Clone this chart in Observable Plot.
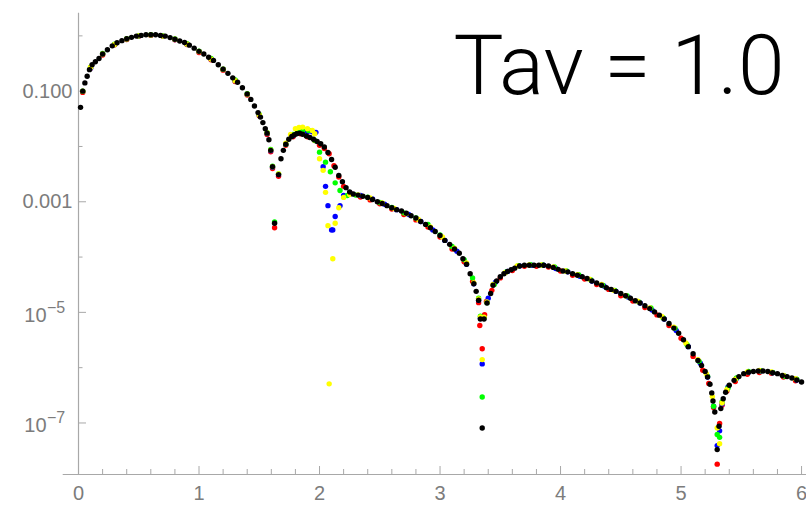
<!DOCTYPE html>
<html>
<head>
<meta charset="utf-8">
<script src="https://cdn.jsdelivr.net/npm/d3@7"></script>
<script src="https://cdn.jsdelivr.net/npm/@observablehq/plot@0.6"></script>
<style>
  html, body { margin: 0; padding: 0; background: #fff; }
  svg { display: block; }
</style>
</head>
<body>
<script>
// ---- data (x, intensity) ----
const black = [
  [0.017,0.051],[0.035,0.100],[0.053,0.141],[0.072,0.186],[0.091,0.245],[0.113,0.30],[0.14,0.34],[0.17,0.39],
  [0.20,0.47],[0.24,0.56],[0.28,0.66],[0.32,0.75],[0.36,0.82],[0.40,0.885],[0.44,0.94],[0.48,0.99],
  [0.52,1.02],[0.56,1.045],[0.60,1.045],[0.64,1.045],[0.68,1.02],[0.72,0.99],[0.76,0.93],[0.80,0.87],
  [0.84,0.81],[0.88,0.76],[0.92,0.68],[0.96,0.60],[1.00,0.525],[1.04,0.47],[1.08,0.41],[1.12,0.36],
  [1.16,0.30],[1.20,0.25],[1.24,0.21],[1.28,0.174],[1.32,0.145],[1.36,0.115],[1.40,0.089],[1.43,0.071],
  [1.46,0.054],[1.49,0.041],[1.51,0.034],[1.53,0.027],[1.55,0.021],[1.565,0.0174],[1.58,0.0132],[1.595,0.0085],
  [1.61,0.0043],[1.627,0.00041],[1.66,0.0031],[1.68,0.006],[1.70,0.0085],[1.72,0.011],[1.745,0.0135],[1.77,0.0151],
  [1.79,0.0162],[1.81,0.017],[1.835,0.0174],[1.86,0.0166],[1.89,0.0155],[1.92,0.0145],[1.95,0.0135],[1.98,0.0123],
  [2.01,0.0112],[2.04,0.0098],[2.07,0.0078],[2.10,0.0058],[2.13,0.0042],[2.16,0.003],[2.19,0.0023],[2.22,0.0018],
  [2.25,0.0015],[2.28,0.00138],[2.32,0.00132],[2.36,0.00126],[2.40,0.0012],[2.44,0.0011],[2.48,0.001],[2.52,0.00093],
  [2.56,0.00085],[2.60,0.00078],[2.64,0.00072],[2.68,0.00068],[2.72,0.00062],[2.76,0.00056],[2.80,0.00051],[2.84,0.00044],
  [2.88,0.00039],[2.92,0.00034],[2.96,0.00029],[3.00,0.000245],[3.04,0.0002],[3.08,0.00017],[3.12,0.00014],[3.16,0.000117],
  [3.19,9.3e-5],[3.22,7.4e-5],[3.25,5.0e-5],[3.28,3.3e-5],[3.30,2.4e-5],[3.32,1.66e-5],[3.335,7.6e-6],[3.35,8.1e-8],
  [3.365,7.6e-6],[3.39,1.48e-5],[3.42,2.2e-5],[3.44,3.1e-5],[3.47,3.7e-5],[3.50,4.4e-5],[3.53,5.0e-5],[3.56,5.5e-5],
  [3.59,5.9e-5],[3.62,6.3e-5],[3.66,6.9e-5],[3.70,7.1e-5],[3.74,7.1e-5],[3.78,7.1e-5],[3.82,7.1e-5],[3.86,7.1e-5],
  [3.90,6.9e-5],[3.94,6.5e-5],[3.98,6.0e-5],[4.02,5.6e-5],[4.06,5.4e-5],[4.10,5.0e-5],[4.14,4.7e-5],[4.18,4.4e-5],
  [4.22,4.1e-5],[4.26,3.7e-5],[4.30,3.4e-5],[4.34,3.1e-5],[4.38,2.8e-5],[4.42,2.6e-5],[4.46,2.4e-5],[4.50,2.2e-5],
  [4.54,2.0e-5],[4.58,1.8e-5],[4.62,1.62e-5],[4.66,1.48e-5],[4.70,1.32e-5],[4.74,1.17e-5],[4.78,1.02e-5],[4.82,8.9e-6],
  [4.86,7.6e-6],[4.90,6.3e-6],[4.94,5.2e-6],[4.98,4.2e-6],[5.02,3.2e-6],[5.06,2.4e-6],[5.10,1.78e-6],[5.14,1.35e-6],
  [5.17,1.1e-6],[5.20,8.5e-7],[5.22,6.8e-7],[5.24,5.0e-7],[5.255,3.5e-7],[5.265,2.5e-7],[5.28,1.58e-7],[5.30,3.3e-8],
  [5.315,8.7e-8],[5.33,1.82e-7],[5.35,2.75e-7],[5.37,3.6e-7],[5.40,4.8e-7],[5.44,5.9e-7],[5.48,6.9e-7],[5.52,7.8e-7],
  [5.56,8.3e-7],[5.60,8.5e-7],[5.64,8.7e-7],[5.68,8.7e-7],[5.72,8.5e-7],[5.76,8.1e-7],[5.80,7.8e-7],[5.84,7.2e-7],
  [5.88,6.9e-7],[5.92,6.5e-7],[5.96,6.0e-7],[6.00,5.5e-7]
];
const red = [
  [0.035,0.095],[0.10,0.26],[0.20,0.45],[0.30,0.69],[0.40,0.86],[0.50,0.98],[0.60,1.02],[0.70,0.98],
  [0.80,0.85],[0.90,0.70],[1.00,0.50],[1.10,0.37],[1.20,0.24],[1.30,0.15],[1.40,0.085],[1.50,0.036],
  [1.565,0.0165],[1.595,0.0080],[1.61,0.0040],[1.627,0.00034],[1.66,0.0029],[1.72,0.0105],[1.78,0.0150],[1.84,0.0170],
  [1.90,0.0150],[1.96,0.0128],[2.00,0.0105],[2.04,0.0092],[2.08,0.0074],[2.12,0.0045],[2.16,0.0028],[2.20,0.0019],
  [2.26,0.0014],[2.34,0.00122],[2.42,0.00108],[2.50,0.00092],[2.60,0.00074],[2.70,0.00059],[2.80,0.00047],[2.90,0.00035],
  [3.00,0.00023],[3.10,0.00014],[3.20,8.2e-5],[3.27,3.6e-5],[3.32,1.5e-5],[3.33,5.8e-6],[3.35,2.2e-6],[3.37,9.1e-6],
  [3.385,1.58e-5],[3.43,2.5e-5],[3.50,4.2e-5],[3.60,5.7e-5],[3.70,6.8e-5],[3.80,6.8e-5],[3.90,6.6e-5],[4.00,5.6e-5],
  [4.10,4.7e-5],[4.20,4.0e-5],[4.30,3.2e-5],[4.40,2.6e-5],[4.50,2.0e-5],[4.60,1.6e-5],[4.70,1.22e-5],[4.80,9.0e-6],
  [4.90,5.8e-6],[5.00,3.4e-6],[5.10,1.6e-6],[5.18,9.0e-7],[5.23,5.2e-7],[5.27,1.9e-7],[5.30,1.8e-8],[5.32,9.8e-8],
  [5.34,2.1e-7],[5.38,3.8e-7],[5.45,5.6e-7],[5.55,7.6e-7],[5.65,8.2e-7],[5.75,7.9e-7],[5.85,6.8e-7],[5.95,5.8e-7]
];
const blue = [
  [0.035,0.10],[0.10,0.26],[0.20,0.47],[0.30,0.70],[0.40,0.88],[0.50,0.99],[0.60,1.04],[0.70,0.99],
  [0.80,0.86],[0.90,0.71],[1.00,0.52],[1.10,0.38],[1.20,0.25],[1.30,0.155],[1.40,0.088],[1.50,0.037],
  [1.565,0.0172],[1.595,0.0084],[1.61,0.0042],[1.66,0.0031],[1.72,0.011],[1.78,0.0158],[1.84,0.0178],[1.90,0.0185],
  [1.94,0.0185],[1.97,0.018],[2.03,0.0043],[2.05,0.0019],[2.07,0.00085],[2.10,0.00031],[2.11,0.00031],[2.13,0.00054],
  [2.17,0.00085],[2.20,0.0013],[2.26,0.00138],[2.34,0.0013],[2.44,0.00112],[2.54,0.0009],[2.64,0.00072],[2.74,0.00059],
  [2.84,0.00044],[2.94,0.00031],[3.04,0.0002],[3.14,0.000128],[3.22,7.4e-5],[3.28,3.3e-5],[3.32,1.66e-5],[3.335,7.8e-6],
  [3.35,1.17e-6],[3.365,7.8e-6],[3.40,1.8e-5],[3.46,3.5e-5],[3.56,5.5e-5],[3.66,6.9e-5],[3.76,7.1e-5],[3.86,7.1e-5],
  [3.96,6.2e-5],[4.06,5.4e-5],[4.16,4.5e-5],[4.26,3.7e-5],[4.36,3.0e-5],[4.46,2.4e-5],[4.56,1.9e-5],[4.66,1.48e-5],
  [4.76,1.1e-5],[4.86,7.6e-6],[4.96,4.7e-6],[5.06,2.4e-6],[5.16,1.2e-6],[5.22,6.8e-7],[5.27,2.0e-7],[5.30,3.9e-8],
  [5.32,7.2e-8],[5.34,2.2e-7],[5.39,4.5e-7],[5.46,6.4e-7],[5.56,8.3e-7],[5.66,8.7e-7],[5.76,8.1e-7],[5.86,7.0e-7],
  [5.96,6.0e-7]
];
const green = [
  [0.035,0.10],[0.10,0.27],[0.20,0.48],[0.30,0.71],[0.40,0.89],[0.50,1.0],[0.60,1.05],[0.70,1.0],
  [0.80,0.88],[0.90,0.72],[1.00,0.53],[1.10,0.39],[1.20,0.25],[1.30,0.16],[1.40,0.09],[1.50,0.038],
  [1.565,0.0178],[1.595,0.0088],[1.61,0.0044],[1.627,0.00043],[1.66,0.0032],[1.72,0.011],[1.78,0.0165],[1.82,0.019],
  [1.86,0.0195],[1.91,0.0195],[1.96,0.0129],[2.00,0.0079],[2.05,0.0052],[2.09,0.0035],[2.13,0.0022],[2.17,0.0016],
  [2.23,0.0013],[2.30,0.00132],[2.40,0.00121],[2.50,0.00097],[2.60,0.00079],[2.70,0.00063],[2.80,0.00051],[2.90,0.00039],
  [3.00,0.00025],[3.10,0.000155],[3.20,9.0e-5],[3.27,4.2e-5],[3.32,1.8e-5],[3.335,8.5e-6],[3.35,2.95e-7],[3.365,8.0e-6],
  [3.39,1.5e-5],[3.45,3.2e-5],[3.55,5.4e-5],[3.65,7.0e-5],[3.75,7.3e-5],[3.85,7.2e-5],[3.95,6.6e-5],[4.05,5.6e-5],
  [4.15,4.8e-5],[4.25,3.9e-5],[4.35,3.1e-5],[4.45,2.5e-5],[4.55,2.0e-5],[4.65,1.55e-5],[4.75,1.2e-5],[4.85,8.0e-6],
  [4.95,5.2e-6],[5.05,2.6e-6],[5.15,1.3e-6],[5.22,7.0e-7],[5.27,2.0e-7],[5.30,6.2e-8],[5.32,5.5e-8],[5.34,2.4e-7],
  [5.39,4.3e-7],[5.46,6.5e-7],[5.56,8.5e-7],[5.66,8.8e-7],[5.76,8.2e-7],[5.86,7.0e-7],[5.96,6.2e-7]
];
const yellow = [
  [0.035,0.10],[0.10,0.27],[0.20,0.47],[0.30,0.70],[0.40,0.88],[0.50,1.0],[0.60,1.04],[0.70,0.99],
  [0.80,0.87],[0.90,0.71],[1.00,0.52],[1.10,0.38],[1.20,0.25],[1.30,0.155],[1.40,0.088],[1.50,0.037],
  [1.565,0.0175],[1.595,0.0086],[1.61,0.0043],[1.66,0.0032],[1.72,0.0115],[1.76,0.0165],[1.80,0.021],[1.83,0.022],
  [1.86,0.0224],[1.90,0.021],[1.94,0.0195],[1.96,0.017],[2.00,0.006],[2.03,0.0037],[2.05,0.00148],[2.07,0.00037],
  [2.08,5.1e-7],[2.11,9.3e-5],[2.13,0.00041],[2.16,0.00078],[2.20,0.0012],[2.25,0.00135],[2.32,0.00133],[2.42,0.00117],
  [2.52,0.00095],[2.62,0.00076],[2.72,0.00061],[2.82,0.00048],[2.92,0.00035],[3.02,0.00023],[3.12,0.000145],[3.22,7.8e-5],
  [3.28,3.4e-5],[3.32,1.75e-5],[3.335,8.3e-6],[3.35,1.4e-6],[3.365,8.2e-6],[3.39,1.55e-5],[3.44,3.2e-5],[3.54,5.2e-5],
  [3.64,6.9e-5],[3.74,7.2e-5],[3.84,7.2e-5],[3.94,6.6e-5],[4.04,5.6e-5],[4.14,4.8e-5],[4.24,4.0e-5],[4.34,3.2e-5],
  [4.44,2.5e-5],[4.54,2.0e-5],[4.64,1.6e-5],[4.74,1.2e-5],[4.84,8.4e-6],[4.94,5.4e-6],[5.04,2.8e-6],[5.14,1.4e-6],
  [5.21,7.8e-7],[5.26,3.0e-7],[5.30,8.1e-8],[5.32,4.2e-8],[5.34,2.3e-7],[5.38,4.0e-7],[5.45,6.2e-7],[5.55,8.4e-7],
  [5.65,8.9e-7],[5.75,8.4e-7],[5.85,7.2e-7],[5.95,6.3e-7]
];

// ---- ticks and labels ----
const xMajorTicks = [0, 1, 2, 3, 4, 5, 6];
const xMinorTicks = [0.2,0.4,0.6,0.8,1.2,1.4,1.6,1.8,2.2,2.4,2.6,2.8,3.2,3.4,3.6,3.8,4.2,4.4,4.6,4.8,5.2,5.4,5.6,5.8];
const yMajorTicks = [0.1, 1e-3, 1e-5, 1e-7];
const yMinorTicks = [1, 1e-2, 1e-4, 1e-6];
const yDecimalTicks = [0.1, 1e-3];
const yDecimalLabels = ["0.100", "0.001"];
const yPowerTicks = [1e-5, 1e-7];
const yPowerBase = ["10", "10"];
const yPowerExp = ["\u22125", "\u22127"];
const titleText = "Tav = 1.0";

const xDomain = [-0.127, 6.041];
const yDomain = [1.17e-8, 2.57];

// ---- layout / style ----
const W = 806, H = 506;
const mL = 62.7, mR = 0, mT = 12.7, mB = 32;
const innerW = W - mL - mR, innerH = H - mT - mB;
const x0off = (0 - xDomain[0]) / (xDomain[1] - xDomain[0]) * innerW;
const axisGray = "#a8a8a8";
const labelGray = "#7c7c7c";
const r = 2.7;

const series = [
  {data: red, color: "#ff0000"},
  {data: blue, color: "#0000ff"},
  {data: green, color: "#00ff00"},
  {data: yellow, color: "#ffff00"},
  {data: black, color: "#000000"}
];

const chart = Plot.plot({
  width: W, height: H,
  marginLeft: mL, marginRight: mR, marginTop: mT, marginBottom: mB,
  style: {fontFamily: "'Liberation Sans', Arial, sans-serif", background: "#fff"},
  x: {domain: xDomain, axis: null},
  y: {type: "log", domain: yDomain, axis: null},
  marks: [
    Plot.ruleX([0], {stroke: axisGray, strokeWidth: 1.2}),
    Plot.ruleY([yDomain[0]], {stroke: axisGray, strokeWidth: 1.2}),
    Plot.tickX(xMinorTicks, {x: d => d, stroke: axisGray, insetTop: innerH - 5}),
    Plot.tickX(xMajorTicks, {x: d => d, stroke: axisGray, insetTop: innerH - 8}),
    Plot.tickY(yMinorTicks, {y: d => d, stroke: axisGray, insetLeft: x0off, insetRight: innerW - x0off - 4.5}),
    Plot.tickY(yMajorTicks, {y: d => d, stroke: axisGray, insetLeft: x0off, insetRight: innerW - x0off - 8}),
    Plot.text(xMajorTicks, {x: d => d, text: d => String(d), frameAnchor: "bottom", lineAnchor: "top", dy: 11, fontSize: 20, fill: labelGray}),
    Plot.text(yDecimalTicks, {y: d => d, text: (d, i) => yDecimalLabels[i], frameAnchor: "left", textAnchor: "end", dx: x0off - 6, fontSize: 20, fill: labelGray}),
    Plot.text(yPowerTicks, {y: d => d, text: (d, i) => yPowerBase[i], frameAnchor: "left", textAnchor: "end", dx: x0off - 32, dy: 3, fontSize: 20, fill: labelGray}),
    Plot.text(yPowerTicks, {y: d => d, text: (d, i) => yPowerExp[i], frameAnchor: "left", textAnchor: "start", dx: x0off - 31.5, dy: -4.7, fontSize: 16, fill: labelGray}),
    ...series.map(s => Plot.dot(s.data, {x: d => d[0], y: d => d[1], r, fill: s.color})),
    Plot.text([titleText], {frameAnchor: "top-right", textAnchor: "end", lineAnchor: "bottom", dx: -22, dy: 80.3, fontSize: 84, fontWeight: 300, fontFamily: "Roboto, 'Open Sans', sans-serif", fill: "#000"})
  ]
});
document.body.appendChild(chart);
</script>
</body>
</html>
